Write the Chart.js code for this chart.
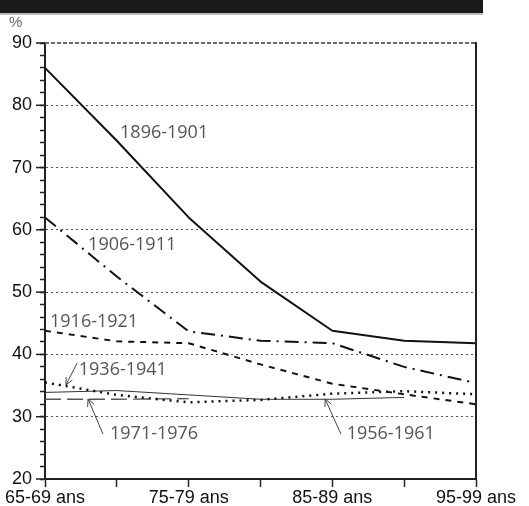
<!DOCTYPE html>
<html>
<head>
<meta charset="utf-8">
<script src="https://cdn.jsdelivr.net/npm/chart.js@4/dist/chart.umd.min.js"></script>
<style>
  html, body { margin: 0; padding: 0; background: #fff; }
  #wrap { position: relative; width: 529px; height: 506px; overflow: hidden; }
  #bar { position: absolute; left: 0; top: 0; width: 483px; height: 13px; background: #1a1a1a; }
  #bar2 { position: absolute; left: 0; top: 13px; width: 483px; height: 2px; background: #bdbdbd; }
  #unit { position: absolute; left: 9px; top: 13px; font: 15px "Liberation Sans", Arial, sans-serif; color: #666; }
  #c { position: absolute; left: 0; top: 0; }
</style>
</head>
<body>
<div id="wrap">
  <canvas id="c" width="529" height="506"></canvas>
  <div id="bar"></div>
  <div id="bar2"></div>
  <div id="unit">%</div>
</div>
<script>
// ---- data ----
const categories = ["65-69 ans", "70-74 ans", "75-79 ans", "80-84 ans", "85-89 ans", "90-94 ans", "95-99 ans"];
const shownTickLabels = ["65-69 ans", "", "75-79 ans", "", "85-89 ans", "", "95-99 ans"];
const seriesNames = ["1896-1901", "1906-1911", "1916-1921", "1936-1941", "1956-1961", "1971-1976"];
const s1896 = [86, 74.3, 62, 51.7, 43.8, 42.2, 41.8];
const s1906 = [62, 52.5, 43.7, 42.2, 41.8, 38, 35.4];
const s1916 = [43.8, 42.1, 41.8, 38.4, 35.3, 33.6, 32];
const s1936 = [35.5, 33.5, 32.3, 32.7, 33.7, 34.1, 33.6];
const s1956 = [33.9, 34.2, 33.5, 32.8, 32.8, 33.1, null];
const s1971 = [32.8, 32.8, 32.9, null, null, null, null];
const yMin = 20, yMax = 90;

// annotation placement in data units (x = category index, y = value)
const labelSpots = [
  { text: "1896-1901", x: 1.045, y: 75.6 },
  { text: "1906-1911", x: 0.6, y: 57.6 },
  { text: "1916-1921", x: 0.07, y: 45.2 },
  { text: "1936-1941", x: 0.47, y: 37.5 },
  { text: "1971-1976", x: 0.905, y: 27.2 },
  { text: "1956-1961", x: 4.2, y: 27.2 }
];
const arrowSpots = [
  { x1: 0.446, y1: 38.6, x2: 0.292, y2: 35.1 },
  { x1: 0.808, y1: 27.2, x2: 0.599, y2: 32.85 },
  { x1: 4.12, y1: 27.2, x2: 3.9, y2: 32.85 }
];

const decor = {
  id: 'decor',
  afterDraw(chart) {
    const ctx = chart.ctx;
    const xs = chart.scales.x, ys = chart.scales.y;
    const a = chart.chartArea;
    ctx.save();
    // top dashed line at max
    const yTop = ys.getPixelForValue(yMax);
    ctx.strokeStyle = '#666';
    ctx.lineWidth = 2;
    ctx.setLineDash([4, 2]);
    ctx.beginPath(); ctx.moveTo(a.left, yTop); ctx.lineTo(a.right, yTop); ctx.stroke();
    ctx.setLineDash([]);
    // right border
    ctx.strokeStyle = '#222';
    ctx.lineWidth = 2;
    ctx.beginPath(); ctx.moveTo(a.right, yTop - 1); ctx.lineTo(a.right, ys.getPixelForValue(yMin)); ctx.stroke();
    // long major ticks
    ctx.lineWidth = 1.5;
    for (let v = yMin; v <= yMax; v += 10) {
      const y = ys.getPixelForValue(v);
      ctx.beginPath(); ctx.moveTo(a.left - 9, y); ctx.lineTo(a.left, y); ctx.stroke();
    }
    // arrows
    ctx.strokeStyle = '#444';
    ctx.lineWidth = 1;
    arrowSpots.forEach(s => {
      const x1 = xs.getPixelForValue(s.x1), y1 = ys.getPixelForValue(s.y1);
      const x2 = xs.getPixelForValue(s.x2), y2 = ys.getPixelForValue(s.y2);
      ctx.beginPath(); ctx.moveTo(x1, y1); ctx.lineTo(x2, y2); ctx.stroke();
      const ang = Math.atan2(y2 - y1, x2 - x1);
      const L = 8, w = 0.45;
      ctx.beginPath();
      ctx.moveTo(x2 - L * Math.cos(ang - w), y2 - L * Math.sin(ang - w));
      ctx.lineTo(x2, y2);
      ctx.lineTo(x2 - L * Math.cos(ang + w), y2 - L * Math.sin(ang + w));
      ctx.stroke();
    });
    // labels
    ctx.fillStyle = '#555';
    ctx.font = '18px "Open Sans", sans-serif';
    ctx.textAlign = 'left';
    ctx.textBaseline = 'middle';
    labelSpots.forEach(s => {
      ctx.fillText(s.text, xs.getPixelForValue(s.x), ys.getPixelForValue(s.y));
    });
    ctx.restore();
  }
};

const mk = (i, data, opts) => Object.assign({
  label: seriesNames[i], data, tension: 0, pointRadius: 0, pointHoverRadius: 0,
  fill: false, spanGaps: false, borderCapStyle: 'butt', borderJoinStyle: 'round'
}, opts);

new Chart(document.getElementById('c'), {
  type: 'line',
  data: {
    labels: categories,
    datasets: [
      mk(0, s1896, { borderColor: '#111', borderWidth: 2 }),
      mk(1, s1906, { borderColor: '#111', borderWidth: 2, borderDash: [14, 6, 2, 6] }),
      mk(2, s1916, { borderColor: '#111', borderWidth: 2, borderDash: [6, 6] }),
      mk(3, s1936, { borderColor: '#111', borderWidth: 2.5, borderDash: [2, 5] }),
      mk(4, s1956, { borderColor: '#333', borderWidth: 1 }),
      mk(5, s1971, { borderColor: '#555', borderWidth: 1.3, borderDash: [16, 6] })
    ]
  },
  options: {
    responsive: false,
    animation: false,
    events: [],
    layout: { padding: { left: 0, right: 53, top: 43, bottom: 0 } },
    plugins: { legend: { display: false }, tooltip: { enabled: false } },
    scales: {
      x: {
        type: 'category',
        offset: false,
        afterFit(s) { s.height = 27; },
        grid: { drawOnChartArea: false, drawTicks: true, tickLength: 8, tickColor: '#222', tickWidth: 1.5 },
        border: { display: true, color: '#222', width: 2 },
        ticks: {
          autoSkip: false, maxRotation: 0, minRotation: 0, padding: 0,
          color: '#111', font: { family: '"Liberation Sans", Arial, sans-serif', size: 18 },
          callback: (v, i) => shownTickLabels[i]
        }
      },
      y: {
        min: yMin, max: yMax,
        afterFit(s) { s.width = 45; },
        grid: {
          color: c => (c.tick && c.tick.value % 10 === 0 && c.tick.value > yMin && c.tick.value < yMax) ? '#555' : 'rgba(0,0,0,0)',
          lineWidth: 1,
          drawTicks: true, tickLength: 5, tickColor: '#222', tickWidth: 1.5
        },
        border: { display: true, color: '#222', width: 2, dash: [2, 3] },
        ticks: {
          stepSize: 2, autoSkip: false, padding: 8,
          color: '#111', font: { family: '"Liberation Sans", Arial, sans-serif', size: 18 },
          callback: v => (v % 10 === 0 ? String(v) : '')
        }
      }
    }
  },
  plugins: [decor]
});
</script>
</body>
</html>
